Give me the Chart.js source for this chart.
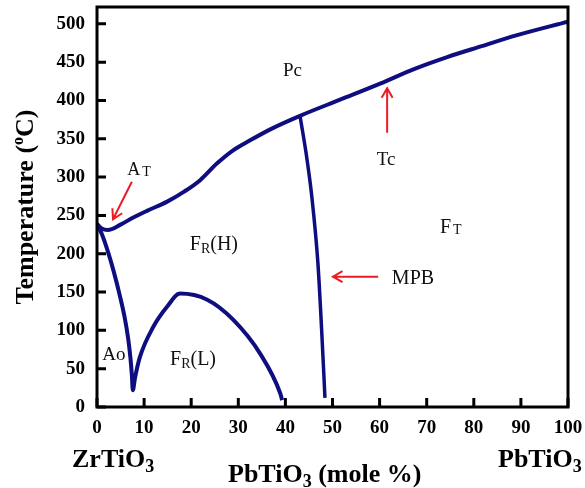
<!DOCTYPE html>
<html>
<head>
<meta charset="utf-8">
<script src="https://cdn.jsdelivr.net/npm/chart.js@4.4.1/dist/chart.umd.min.js"></script>
<style>
  html, body { margin: 0; padding: 0; background: #fff; }
  #wrap { width: 585px; height: 488px; }
</style>
</head>
<body>
<div id="wrap"><canvas id="phase" width="585" height="488"></canvas></div>
<script>
// PbTiO3 content (mole %) and temperature (deg C)
const curieX = [0, 1, 2.3, 5, 7.6, 10.6, 14.9, 18.5, 21.9, 25.5, 28.9, 32.5, 37, 43.1, 51.6, 60.1, 67.3, 74.5, 81.7, 89, 100];
const curieT = [239, 233, 231, 238, 247, 256, 268, 281, 296, 318, 335, 348, 363, 380, 401, 422, 441, 457, 471, 485, 503];

const mpbX = [43.1, 44.5, 45.6, 46.9, 47.7, 48.4];
const mpbT = [380, 327, 275, 188, 100, 12];

// Ao / FR(H) boundary down to the cusp, then the FR(L) dome
const lowX = [0, 1, 2.1, 3.5, 4.9, 5.9, 6.6, 7.1, 7.4, 7.6, 8.1, 9.1, 11.9, 14.9, 17.6, 23.4, 28.9, 34.6, 38.9, 39.3];
const lowT = [239, 226, 207, 178, 144, 116, 90, 64, 42, 22, 39, 65, 104, 131, 148, 140, 114, 70, 18, 9];

const xTicks = [0, 10, 20, 30, 40, 50, 60, 70, 80, 90, 100];
const yTicks = [0, 50, 100, 150, 200, 250, 300, 350, 400, 450, 500];

const SERIF = "'Liberation Serif', 'Times New Roman', serif";
const NAVY = '#0e0e80';
const RED = '#ec1c24';

// phase labels, anchored left/baseline in data units
const notes = [
  { x: 39.5, y: 432, parts: [{ t: 'Pc', s: 19 }] },
  { x: 6.4, y: 303, parts: [{ t: 'A', s: 18 }, { t: ' ', s: 8 }, { t: 'T', s: 14, dy: 1 }] },
  { x: 59.4, y: 316, parts: [{ t: 'Tc', s: 19 }] },
  { x: 19.7, y: 205, parts: [{ t: 'F', s: 20 }, { t: 'R', s: 14, dy: 3 }, { t: '(H)', s: 20 }] },
  { x: 72.8, y: 227, parts: [{ t: 'F', s: 20 }, { t: ' ', s: 8 }, { t: 'T', s: 14, dy: 1 }] },
  { x: 62.6, y: 161, parts: [{ t: 'MPB', s: 20 }] },
  { x: 1.1, y: 61, parts: [{ t: 'Ao', s: 19 }] },
  { x: 15.5, y: 55, parts: [{ t: 'F', s: 20 }, { t: 'R', s: 14, dy: 3 }, { t: '(L)', s: 20 }] }
];
const arrows = [
  { x1: 7.4, y1: 294, x2: 3.4, y2: 245 },
  { x1: 61.6, y1: 358, x2: 61.6, y2: 416 },
  { x1: 59.7, y1: 170, x2: 50.1, y2: 170 }
];

function pts(xs, ys) {
  return xs.map((x, i) => ({ x: x, y: ys[i] }));
}

function rich(ctx, x, y, parts, bold) {
  let cx = x;
  parts.forEach(p => {
    ctx.font = (bold ? 'bold ' : '') + p.s + 'px ' + SERIF;
    ctx.fillText(p.t, cx, y + (p.dy || 0));
    cx += ctx.measureText(p.t).width;
  });
  return cx - x;
}

function richWidth(ctx, parts, bold) {
  let w = 0;
  parts.forEach(p => {
    ctx.font = (bold ? 'bold ' : '') + p.s + 'px ' + SERIF;
    w += ctx.measureText(p.t).width;
  });
  return w;
}

function arrow(ctx, x1, y1, x2, y2) {
  const a = Math.atan2(y2 - y1, x2 - x1), h = 11, w = Math.PI / 6;
  ctx.beginPath();
  ctx.moveTo(x1, y1);
  ctx.lineTo(x2, y2);
  ctx.moveTo(x2 - h * Math.cos(a - w), y2 - h * Math.sin(a - w));
  ctx.lineTo(x2, y2);
  ctx.lineTo(x2 - h * Math.cos(a + w), y2 - h * Math.sin(a + w));
  ctx.stroke();
}

const decor = {
  id: 'decor',
  afterDraw(chart) {
    const ctx = chart.ctx;
    const area = chart.chartArea;
    const xs = chart.scales.x, ys = chart.scales.y;
    ctx.save();

    // frame and inward tick marks
    ctx.strokeStyle = '#000';
    ctx.lineWidth = 3;
    ctx.strokeRect(area.left, area.top, area.right - area.left, area.bottom - area.top);
    ctx.beginPath();
    yTicks.forEach(v => {
      const py = ys.getPixelForValue(v);
      ctx.moveTo(area.left, py);
      ctx.lineTo(area.left + 9, py);
    });
    xTicks.forEach(v => {
      const px = xs.getPixelForValue(v);
      ctx.moveTo(px, area.bottom);
      ctx.lineTo(px, area.bottom - 9);
    });
    ctx.stroke();

    // phase labels
    ctx.fillStyle = '#111';
    ctx.textBaseline = 'alphabetic';
    ctx.textAlign = 'left';
    notes.forEach(n => {
      rich(ctx, xs.getPixelForValue(n.x), ys.getPixelForValue(n.y), n.parts, false);
    });

    // red arrows
    ctx.strokeStyle = RED;
    ctx.lineWidth = 2;
    arrows.forEach(a => {
      arrow(ctx, xs.getPixelForValue(a.x1), ys.getPixelForValue(a.y1),
        xs.getPixelForValue(a.x2), ys.getPixelForValue(a.y2));
    });

    // y title with superscript o
    ctx.fillStyle = '#000';
    const yTitle = [{ t: 'Temperature (', s: 26 }, { t: 'o', s: 16, dy: -10 }, { t: 'C)', s: 26 }];
    const tw = richWidth(ctx, yTitle, true);
    ctx.translate(33, (area.top + area.bottom) / 2);
    ctx.rotate(-Math.PI / 2);
    rich(ctx, -tw / 2, 0, yTitle, true);
    ctx.setTransform(1, 0, 0, 1, 0, 0);

    // bottom labels
    const b = area.bottom;
    rich(ctx, area.left - 25, b + 60, [{ t: 'ZrTiO', s: 26 }, { t: '3', s: 18, dy: 5 }], true);
    rich(ctx, area.left + 131, b + 75, [{ t: 'PbTiO', s: 26 }, { t: '3', s: 18, dy: 5 }, { t: ' (mole %)', s: 26 }], true);
    rich(ctx, area.right - 70, b + 60, [{ t: 'PbTiO', s: 26 }, { t: '3', s: 18, dy: 5 }], true);

    ctx.restore();
  }
};

const line = (data, width) => ({
  data: data,
  showLine: true,
  borderColor: NAVY,
  borderWidth: width,
  pointRadius: 0,
  cubicInterpolationMode: 'monotone',
  fill: false
});

new Chart(document.getElementById('phase'), {
  type: 'scatter',
  data: {
    datasets: [
      line(pts(curieX, curieT), 4),
      line(pts(mpbX, mpbT), 3.5),
      line(pts(lowX, lowT), 4)
    ]
  },
  options: {
    responsive: false,
    animation: false,
    layout: { padding: { top: 7, right: 17, left: 0, bottom: 0 } },
    plugins: { legend: { display: false }, tooltip: { enabled: false } },
    scales: {
      x: {
        type: 'linear',
        min: 0,
        max: 100,
        afterBuildTicks: s => { s.ticks = xTicks.map(v => ({ value: v })); },
        afterFit: s => { s.height = 81; s.paddingLeft = 0; s.paddingRight = 0; },
        grid: { display: false, drawTicks: false },
        border: { display: false },
        ticks: { padding: 10, color: '#000', maxRotation: 0, font: { family: SERIF, size: 19, weight: 'bold' } }
      },
      y: {
        type: 'linear',
        min: 0,
        max: 522,
        afterBuildTicks: s => { s.ticks = yTicks.map(v => ({ value: v })); },
        afterFit: s => { s.width = 97; s.paddingTop = 0; s.paddingBottom = 0; },
        grid: { display: false, drawTicks: false },
        border: { display: false },
        ticks: { padding: 12, color: '#000', font: { family: SERIF, size: 19, weight: 'bold' } }
      }
    }
  },
  plugins: [decor]
});
</script>
</body>
</html>
